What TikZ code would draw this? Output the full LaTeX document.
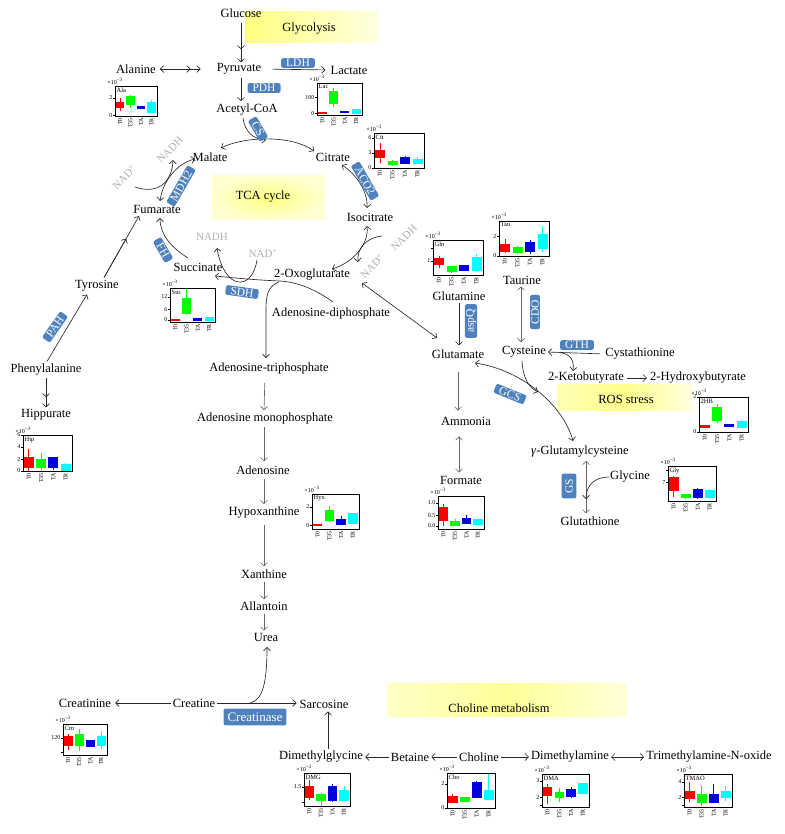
\documentclass[tikz,border=0pt]{standalone}
\usepackage{fontspec}
\setmainfont{Liberation Serif}
\usetikzlibrary{arrows.meta}
\definecolor{bpc1}{RGB}{255,0,0}
\definecolor{bpc2}{RGB}{0,255,0}
\definecolor{bpc3}{RGB}{0,0,220}
\definecolor{bpc4}{RGB}{0,255,255}
\definecolor{enzblue}{RGB}{79,129,189}
\definecolor{arrc}{RGB}{40,40,40}
\definecolor{nadgray}{RGB}{175,175,175}
% box plot: #1 left, #2 top, #3 width, #4 height, #5 name, #6 ticks f/label, #7 data lo/q1/q3/hi
\newcommand\bxp[7]{%
 \begin{scope}[shift={(#1,#2)}]
  \foreach \lo/\qa/\qb/\hi [count=\k] in {#7}{%
   \pgfmathsetmacro\cx{#3*(0.25*\k-0.13)}%
   \pgfmathsetmacro\bw{0.1*#3}%
   \draw[bpc\k, line width=0.8pt] (\cx,{#4*(1-\lo)}) -- (\cx,{#4*(1-\hi)});
   \fill[bpc\k] ({\cx-\bw},{#4*(1-\qa)+0.6}) rectangle ({\cx+\bw},{#4*(1-\qb)-0.6});
  }
  \draw[line width=0.6pt] (0,0) rectangle (#3,#4);
  \foreach \n [count=\k] in {T0,T35,TA,TR}{%
   \node[rotate=90,anchor=east,bplab] at ({#3*(0.25*\k-0.13)},{#4+1.5}) {\n};}
  \foreach \f/\l in {#6}{%
   \draw[line width=0.5pt] (0,{#4*(1-\f)}) -- (-2,{#4*(1-\f)});
   \node[anchor=east,bplab] at (-2,{#4*(1-\f)}) {\l};}
  \node[anchor=north west,bplab,inner sep=1pt,font=\fontsize{6.5}{7}\selectfont] at (0.5,0.5) {#5};
  \node[anchor=south,bplab] at (0,-1) {×10\textsuperscript{−3}};
 \end{scope}}
\begin{document}
\begin{tikzpicture}[x=1pt,y=-1pt,
 >={Straight Barb[length=3.4pt,width=7pt]},
 met/.style={font=\fontsize{12.5}{14}\selectfont, inner sep=1pt},
 enz/.style={fill=enzblue, text=white, rounded corners=2pt, font=\fontsize{11.5}{13}\selectfont, inner xsep=5pt, inner ysep=1pt},
 nad/.style={text=nadgray, font=\fontsize{11}{12}\selectfont, inner sep=0pt},
 ln/.style={draw=arrc, line width=0.65pt},
 arr/.style={ln, ->},
 bi/.style={ln, <->},
 dbl/.style={ln, ->, postaction={draw=arrc, line width=0.65pt, ->, shorten >=#1}},
 bplab/.style={font=\fontsize{6}{7}\selectfont, inner sep=0.5pt},
]
\useasboundingbox (0,0) rectangle (784,834);
% highlights
\shade[left color=yellow!50, right color=yellow!12] (245,12) rectangle (378,43);
\shade[inner color=yellow!50, outer color=yellow!18] (212,176) rectangle (325,220);
\shade[left color=yellow!30, right color=yellow!12, middle color=yellow!45] (557,384) rectangle (692,410);
\shade[left color=yellow!22, right color=yellow!15, middle color=yellow!40] (387,683) rectangle (627,716);
\node[met] (glyc) at (309,29) {Glycolysis};
\node[met] (tca) at (263,197) {TCA cycle};
\node[met] (ros) at (626,399) {ROS stress};
\node[met] (chol) at (499,708) {Choline metabolism};
% metabolites
\node[met] (glucose) at (241,13) {Glucose};
\node[met] (pyruvate) at (239,69) {Pyruvate};
\node[met] (alanine) at (136,69) {Alanine};
\node[met] (lactate) at (349,70) {Lactate};
\node[met] (acetyl) at (247,110) {Acetyl-CoA};
\node[met] (malate) at (210,157) {Malate};
\node[met] (citrate) at (333,157) {Citrate};
\node[met] (fumarate) at (157,209) {Fumarate};
\node[met] (isocitrate) at (370,217) {Isocitrate};
\node[met] (succinate) at (198,267) {Succinate};
\node[met] (oxo) at (312,275) {2-Oxoglutarate};
\node[met] (tyrosine) at (97,286) {Tyrosine};
\node[met] (phe) at (46,370) {Phenylalanine};
\node[met] (hippurate) at (46,415) {Hippurate};
\node[met] (adp) at (331,313) {Adenosine-diphosphate};
\node[met] (atp) at (269,368) {Adenosine-triphosphate};
\node[met] (amp) at (265,418) {Adenosine monophosphate};
\node[met] (adenosine) at (263,470) {Adenosine};
\node[met] (hypox) at (264,513) {Hypoxanthine};
\node[met] (xanthine) at (264,574) {Xanthine};
\node[met] (allantoin) at (264,606) {Allantoin};
\node[met] (urea) at (266,637) {Urea};
\node[met] (glutamine) at (459,296) {Glutamine};
\node[met] (taurine) at (522,280) {Taurine};
\node[met] (glutamate) at (458,354) {Glutamate};
\node[met] (cysteine) at (524,352) {Cysteine};
\node[met] (cysta) at (640,354) {Cystathionine};
\node[met] (ketob) at (586,378) {2-Ketobutyrate};
\node[met] (hydrob) at (698,378) {2-Hydroxybutyrate};
\node[met] (ammonia) at (466,421) {Ammonia};
\node[met] (formate) at (461,480) {Formate};
\node[met] (gglu) at (580,452) {\textit{γ}-Glutamylcysteine};
\node[met] (glycine) at (630,477) {Glycine};
\node[met] (gsh) at (590,521) {Glutathione};
\node[met] (creatinine) at (85,703) {Creatinine};
\node[met] (creatine) at (194,703) {Creatine};
\node[met] (sarcosine) at (324,704) {Sarcosine};
\node[met] (dmg) at (321,757) {Dimethylglycine};
\node[met] (betaine) at (410,757) {Betaine};
\node[met] (choline) at (479,757) {Choline};
\node[met] (dma) at (570,757) {Dimethylamine};
\node[met] (tmao) at (709,757) {Trimethylamine-N-oxide};
% cofactors
\node[nad,rotate=45] (nadA) at (124,177) {NAD\textsuperscript{+}};
\node[nad,rotate=45] (nadhA) at (170,150) {NADH};
\node[nad] (nadhB) at (212,237) {NADH};
\node[nad] (nadB) at (263,253) {NAD\textsuperscript{+}};
\node[nad,rotate=45] (nadC) at (372,266) {NAD\textsuperscript{+}};
\node[nad,rotate=45] (nadhC) at (404,238) {NADH};
% connectors
\draw[dbl=13pt, shorten <=4pt] (glucose.south) -- (glucose.south |- pyruvate.north);
\draw[bi, shorten <=3pt, shorten >=15pt, postaction={ln, ->, shorten >=25pt}] (alanine.east) -- (alanine.east -| pyruvate.west);
\draw[arr, shorten <=10pt, shorten >=4pt] (pyruvate.east) -- (lactate.west);
\draw[arr, shorten <=2pt, shorten >=2pt] ([xshift=2pt]pyruvate.south) -- ([xshift=2pt]pyruvate.south |- acetyl.north);
\draw[arr] (243,118) .. controls (245,132) and (253,139) .. (266,140);
\draw[bi] (221,148) .. controls (245,136) and (292,135) .. (314,151);
\draw[bi] (342,165) .. controls (357,175) and (368,192) .. (367,208);
\draw[bi] (367,226) .. controls (369,245) and (352,263) .. (332,269);
\draw[arr] (382,236) .. controls (365,238) and (357,249) .. (358,262);
\draw[arr] (333,302) .. controls (312,287) and (295,282) .. (280,281) .. controls (255,280) and (235,278) .. (215,276);
\draw[arr] (279,282) .. controls (268,286) and (266,295) .. (266,310) -- (266,358);
\draw[arr] (257,260) .. controls (252,292) and (224,290) .. (217,248);
\draw[arr] (188,258) .. controls (172,248) and (160,235) .. (160,218);
\draw[bi] (160,201) .. controls (163,180) and (178,163) .. (195,159);
\draw[arr] (135,187) .. controls (158,195) and (172,182) .. (173,160);
\draw[dbl=28pt, shorten <=2pt, shorten >=2pt] ([xshift=6pt]tyrosine.north) -- ([xshift=-17pt]fumarate.south);
\draw[arr, shorten <=2pt, shorten >=2pt] (phe.north) -- ([xshift=-9pt]tyrosine.south);
\draw[dbl=11pt, shorten <=1pt, shorten >=1pt] (phe.south) -- (phe.south |- hippurate.north);
\draw[bi] (362,283) -- (437,338);
\draw[arr, shorten <=1pt, shorten >=3pt] (glutamine.south) -- (glutamine.south |- glutamate.north);
\draw[bi, draw=black!60, shorten <=1pt, shorten >=3pt] ([xshift=-1pt]taurine.south) -- ([xshift=-1pt]taurine.south |- cysteine.north);
\draw[arr, shorten <=4pt, shorten >=1pt] (cysta.west) -- (cysteine.east);
\draw[arr] (562,353) .. controls (572,355) and (574,362) .. (573,371);
\draw[arr, shorten <=2pt, shorten >=2pt] (ketob.east) -- (hydrob.west);
\draw[bi] (475,363) .. controls (522,370) and (563,405) .. (573,441);
\draw[arr] (522,361) .. controls (523,380) and (530,388) .. (538,392);
\draw[bi, draw=black!60, shorten <=2pt, shorten >=2pt] ([xshift=6pt]gglu.south) -- ([xshift=6pt]gglu.south |- gsh.north);
\draw[arr] (glycine.west) .. controls (594,477) and (586,486) .. (586,499);
\draw[arr, draw=black!60, shorten <=12pt, shorten >=5pt] (glutamate.south) -- (glutamate.south |- ammonia.north);
\draw[bi, draw=black!60, shorten <=10pt, shorten >=2pt] ([xshift=1pt]glutamate.south |- ammonia.south) -- ([xshift=1pt]glutamate.south |- formate.north);
\draw[arr, draw=black!60, shorten <=8pt, shorten >=1pt] (atp.south -| amp.north) -- ([xshift=-1pt]amp.north);
\draw[arr, draw=black!60, shorten <=2pt, shorten >=3pt] ([xshift=-1pt]amp.south) -- ([xshift=-1pt]amp.south |- adenosine.north);
\draw[arr, draw=black!60, shorten <=3pt, shorten >=2pt] ([xshift=1pt]adenosine.south) -- ([xshift=1pt]adenosine.south |- hypox.north);
\draw[arr, draw=black!60, shorten <=5pt, shorten >=2pt] (hypox.south) -- (hypox.south |- xanthine.north);
\draw[arr, draw=black!60, shorten <=2pt, shorten >=1pt] (xanthine.south) -- (xanthine.south |- allantoin.north);
\draw[arr, draw=black!60, shorten <=2pt, shorten >=1pt] (allantoin.south) -- (allantoin.south |- urea.north);
\draw[arr, shorten <=1pt, shorten >=3pt] (creatine.west) -- (creatinine.east);
\draw[arr, shorten <=1pt, shorten >=2pt] (creatine.east) -- (creatine.east -| sarcosine.west);
\draw[arr] (250,703) .. controls (263,700) and (267,682) .. (267,647);
\draw[arr, shorten <=1pt, shorten >=2pt] ([xshift=7pt]dmg.north) -- ([xshift=7pt]dmg.north |- sarcosine.south);
\draw[arr, shorten <=1pt, shorten >=1pt] (betaine.west) -- (betaine.west -| dmg.east);
\draw[arr, shorten <=1pt, shorten >=1pt] (choline.west) -- (choline.west -| betaine.east);
\draw[arr, shorten <=1pt, shorten >=1pt] (choline.east) -- (choline.east -| dma.west);
\draw[bi, shorten <=1pt, shorten >=1pt] (dma.east) -- (dma.east -| tmao.west);
% enzymes
\node[enz] (ldh) at (298,63) {LDH};
\node[enz] (pdh) at (264,88) {PDH};
\node[enz, rotate=-60] (cs) at (258,129) {CS};
\node[enz, rotate=60] (mdh) at (181,186) {MDH2};
\node[enz, rotate=-60] (aco) at (365,181) {ACO2};
\node[enz, rotate=-60] (fh) at (163,250) {FH};
\node[enz, rotate=-8] (sdh) at (242,292) {SDH};
\node[enz, rotate=55] (pah) at (55,327) {PAH};
\node[enz, rotate=90] (aspq) at (471,321) {aspQ};
\node[enz, rotate=90] (cdo) at (535,312) {CDO};
\node[enz] (gth) at (577,345) {GTH};
\node[enz, rotate=-22] (gcs) at (510,394) {GCS};
\node[enz, rotate=90, inner ysep=3.5pt] (gs) at (569,486) {GS};
\node[enz, font=\fontsize{13}{15}\selectfont, inner xsep=4pt, inner ysep=4pt] (creatinase) at (255,717) {Creatinase};
% box plots
\bxp{115}{86}{42}{30}{Ala}{0.6/2,0.03/0}{0.15/0.27/0.43/0.6,0.27/0.37/0.63/0.7,0.23/0.24/0.3/0.31,0.1/0.13/0.43/0.53}
\bxp{317}{83}{45}{32}{Lac}{0.56/100,0.06/0}{0.03/0.04/0.07/0.08,0.25/0.37/0.72/0.84,0.06/0.07/0.12/0.13,0.05/0.06/0.16/0.2}
\bxp{374}{133}{50}{35}{Cit}{0.86/6,0.43/3,0/0}{0.14/0.29/0.51/0.71,0.06/0.09/0.17/0.23,0.12/0.14/0.31/0.33,0.1/0.14/0.23/0.3}
\bxp{170}{288}{45}{34}{Suc}{0.74/12,0.38/6,0.06/0}{0.04/0.05/0.08/0.09,0.2/0.26/0.7/0.97,0.04/0.05/0.1/0.11,0.04/0.05/0.12/0.13}
\bxp{433}{240}{50}{35}{Gln}{0.77/,0.4/1}{0.2/0.29/0.46/0.55,0.06/0.11/0.23/0.26,0.12/0.14/0.26/0.28,0.1/0.14/0.51/0.6}
\bxp{499}{221}{50}{35}{Tau}{0.57/2,0/0}{0.09/0.14/0.34/0.49,0.06/0.11/0.23/0.3,0.06/0.14/0.37/0.46,0.11/0.23/0.6/0.86}
\bxp{23}{435}{49}{36}{Hip}{1/6,0.67/4,0.33/2,0/0}{0.0/0.11/0.36/0.6,0.03/0.11/0.31/0.5,0.03/0.11/0.36/0.4,0.0/0.03/0.17/0.22}
\bxp{312}{494}{47}{35}{Hyx}{0.63/2,0.11/0}{0.1/0.11/0.14/0.15,0.2/0.26/0.54/0.66,0.12/0.14/0.26/0.37,0.15/0.17/0.43/0.46}
\bxp{438}{496}{46}{33}{}{0.79/1.0,0.42/0.5,0.09/0.0}{0.1/0.27/0.64/0.76,0.1/0.12/0.21/0.3,0.14/0.18/0.33/0.42,0.12/0.15/0.3/0.33}
\bxp{699}{397}{49}{35}{2HB}{1/2,0/0}{0.11/0.14/0.17/0.2,0.26/0.34/0.69/0.8,0.15/0.17/0.2/0.22,0.12/0.14/0.31/0.33}
\bxp{668}{466}{48}{35}{Gly}{0.89/,0.54/7}{0.11/0.31/0.66/0.71,0.06/0.09/0.17/0.2,0.07/0.09/0.34/0.36,0.07/0.09/0.31/0.33}
\bxp{63}{724}{44}{31}{Crn}{0.55/120,0.1/}{0.16/0.32/0.58/0.67,0.13/0.32/0.65/0.84,0.27/0.29/0.48/0.5,0.19/0.32/0.58/0.77}
\bxp{304}{773}{46}{33}{DMG}{0.58/1.5,0.12/}{0.18/0.27/0.58/0.8,0.0/0.18/0.36/0.4,0.12/0.18/0.58/0.68,0.15/0.18/0.48/0.6}
\bxp{447}{773}{48}{35}{Cho}{0.69/2,0/0}{0.14/0.17/0.34/0.4,0.18/0.2/0.29/0.31,0.29/0.31/0.74/0.77,0.26/0.26/0.49/0.97}
\bxp{542}{774}{47}{33}{DMA}{0.79/3,0.3/2,0.05/}{0.09/0.36/0.58/0.7,0.15/0.3/0.45/0.58,0.27/0.33/0.52/0.61,0.4/0.42/0.7/0.72}
\bxp{684}{774}{48}{33}{TMAO}{0.76/4,0.3/2,0.05/}{0.15/0.27/0.48/0.76,0.03/0.15/0.39/0.64,0.15/0.15/0.39/0.7,0.18/0.3/0.48/0.64}
\end{tikzpicture}
\end{document}
